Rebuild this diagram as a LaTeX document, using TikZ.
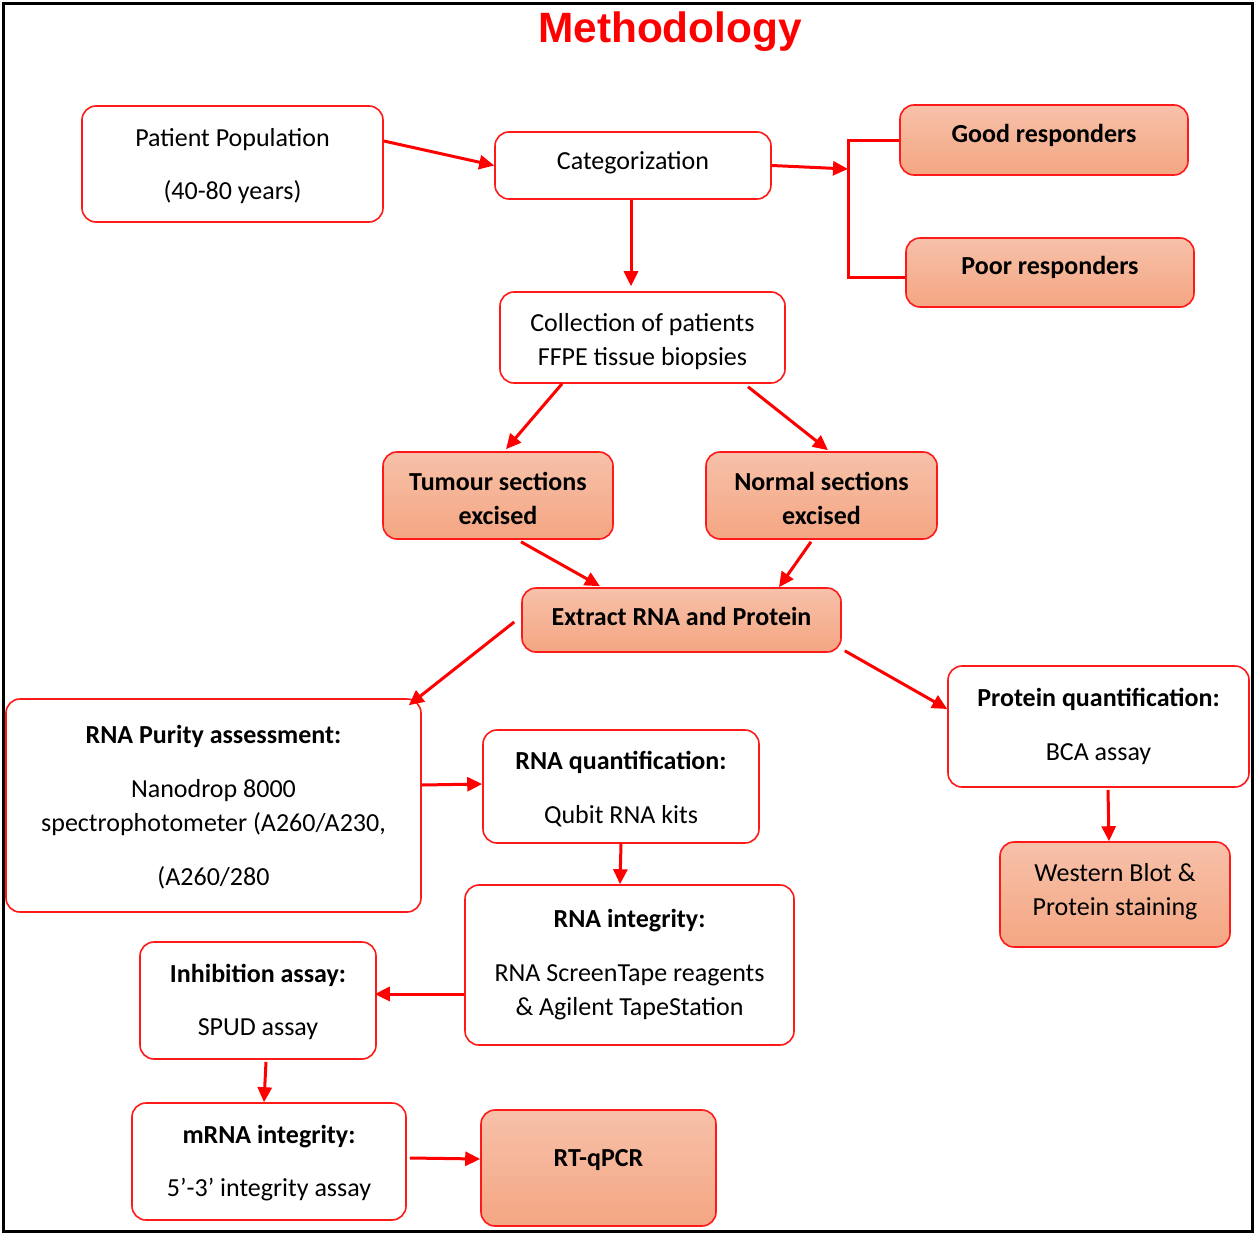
\documentclass[tikz,border=0pt]{standalone}
\usepackage{fontspec}
\setmainfont{Carlito}
\newfontfamily\titlefont{Liberation Sans}
\usetikzlibrary{arrows.meta}
\definecolor{ftop}{HTML}{F7C1AA}
\definecolor{fbot}{HTML}{F4A682}
\definecolor{bred}{HTML}{FF1A1A}
% multi-line text, its middle raised by #1 (zero size, so it does not move the box)
\newcommand\tx[2][0pt]{\raisebox{#1}[0pt][0pt]{\begin{tabular}{@{}c@{}}#2\end{tabular}}}
% single-line text whose baseline sits #1 above the box centre
\newcommand\one[2]{\raisebox{#1}[0pt][0pt]{#2}}
\tikzset{
  wbox/.style={draw=bred, line width=1.6pt, rounded corners=14pt, fill=white, inner sep=0pt,
    font=\fontsize{26}{34}\selectfont},
  fbox/.style={wbox, fill=none, top color=ftop, bottom color=fbot, font=\fontsize{26}{34}\selectfont\bfseries},
  conn/.style={draw=red, line width=3pt, -{Triangle[length=15pt,width=14pt]}},
  plain/.style={draw=red, line width=3pt}
}
\begin{document}
\begin{tikzpicture}[x=1pt,y=-1pt]
\useasboundingbox (0,0) rectangle (1255,1234);
\draw[line width=3pt] (3,3) rectangle (1252,1231);
\node[anchor=base, text=red, font=\fontsize{42.4}{50}\titlefont\bfseries] (title) at (670,42) {Methodology};

\node[wbox, minimum width=301pt, minimum height=116pt] (pp) at (232.5,164) {\tx[-8.7pt]{Patient Population\\[19pt](40-80 years)}};
\node[wbox, minimum width=276pt, minimum height=67pt] (cat) at (633,165.5) {\one{-3.5pt}{Categorization}};
\node[fbox, minimum width=288pt, minimum height=70pt] (good) at (1044,140) {\one{-2pt}{Good responders}};
\node[fbox, minimum width=288pt, minimum height=69pt] (poor) at (1050,272.5) {\one{-1.5pt}{Poor responders}};
\node[wbox, minimum width=285pt, minimum height=91pt] (coll) at (642.5,337.5) {\tx[-10.2pt]{Collection of patients\\FFPE tissue biopsies}};
\node[fbox, minimum width=230pt, minimum height=87pt] (tum) at (498,495.5) {\tx[-11.7pt]{Tumour sections\\excised}};
\node[fbox, minimum width=231pt, minimum height=87pt] (norm) at (821.5,495.5) {\tx[-11.7pt]{Normal sections\\excised}};
\node[fbox, minimum width=319pt, minimum height=64pt] (ext) at (681.5,620) {\one{-5pt}{Extract RNA and Protein}};
\node[wbox, minimum width=415pt, minimum height=213pt] (pur) at (213.5,805.5) {\tx[-8.7pt]{\textbf{RNA Purity assessment:}\\[20pt]Nanodrop 8000\\spectrophotometer (A260/A230,\\[20pt](A260/280}};
\node[wbox, minimum width=276pt, minimum height=113pt] (quant) at (621,786.5) {\tx[-9.7pt]{\textbf{RNA quantification:}\\[20pt]Qubit RNA kits}};
\node[wbox, minimum width=301pt, minimum height=121pt] (prot) at (1098.5,726.5) {\tx[-6.7pt]{\textbf{Protein quantification:}\\[20pt]BCA assay}};
\node[fbox, font=\fontsize{26}{34}\selectfont, minimum width=230pt, minimum height=105pt] (west) at (1115,894.5) {\tx[-3.2pt]{Western Blot \&\\Protein staining}};
\node[wbox, minimum width=329pt, minimum height=160pt] (integ) at (629.5,965) {\tx[-5.7pt]{\textbf{RNA integrity:}\\[20pt]RNA ScreenTape reagents\\\& Agilent TapeStation}};
\node[wbox, minimum width=236pt, minimum height=117pt] (inhib) at (258,1000.5) {\tx[-8.2pt]{\textbf{Inhibition assay:}\\[19pt]SPUD assay}};
\node[wbox, minimum width=274pt, minimum height=117pt] (mrna) at (269,1161.5) {\tx[-8.2pt]{\textbf{mRNA integrity:}\\[19pt]5’-3’ integrity assay}};
\node[fbox, minimum width=235pt, minimum height=116pt] (rtq) at (598.5,1168) {\one{2pt}{RT-qPCR}};

\coordinate (br) at (848,169);
\coordinate (bt) at (848,140);
\coordinate (bb) at (848,277);

\draw[conn] ([yshift=23pt]pp.east) -- (cat.west);
\draw[conn] (cat.east) -- (br);
\draw[plain] (good.west) -- (bt) -- (bb) -- (poor.west |- bb);
\draw[conn] ([xshift=-2pt]cat.south) -- ([xshift=-11.5pt,yshift=5pt]coll.north);
\draw[conn] ([xshift=-80.5pt]coll.south) -- ([xshift=8pt,yshift=2pt]tum.north);
\draw[conn] ([xshift=105.5pt,yshift=-3pt]coll.south) -- ([xshift=6.5pt,yshift=1pt]norm.north);
\draw[conn] ([xshift=23pt,yshift=-2pt]tum.south) -- ([xshift=-81.5pt,yshift=1pt]ext.north);
\draw[conn] ([xshift=-10.5pt,yshift=-2pt]norm.south) -- ([xshift=97.5pt]ext.north);
\draw[conn] ([xshift=-7pt,yshift=-2pt]ext.west) -- ([xshift=-13pt,yshift=-7pt]pur.north east);
\draw[conn] ([xshift=3pt,yshift=2pt]ext.south east) -- ([yshift=17.5pt]prot.west);
\draw[conn] ([yshift=20.5pt]pur.east) -- ([yshift=2.5pt]quant.west);
\draw[conn] ([xshift=9.5pt,yshift=-2pt]prot.south) -- ([xshift=-6pt]west.north);
\draw[conn] (quant.south) -- ([xshift=-9.5pt]integ.north);
\draw[conn] ([yshift=-29pt]integ.west) -- ([xshift=-2pt,yshift=6.5pt]inhib.east);
\draw[conn] ([xshift=8pt,yshift=-2pt]inhib.south) -- ([xshift=-5pt]mrna.north);
\draw[conn] ([xshift=3pt,yshift=3.5pt]mrna.east) -- ([yshift=9pt]rtq.west);
\end{tikzpicture}
\end{document}
